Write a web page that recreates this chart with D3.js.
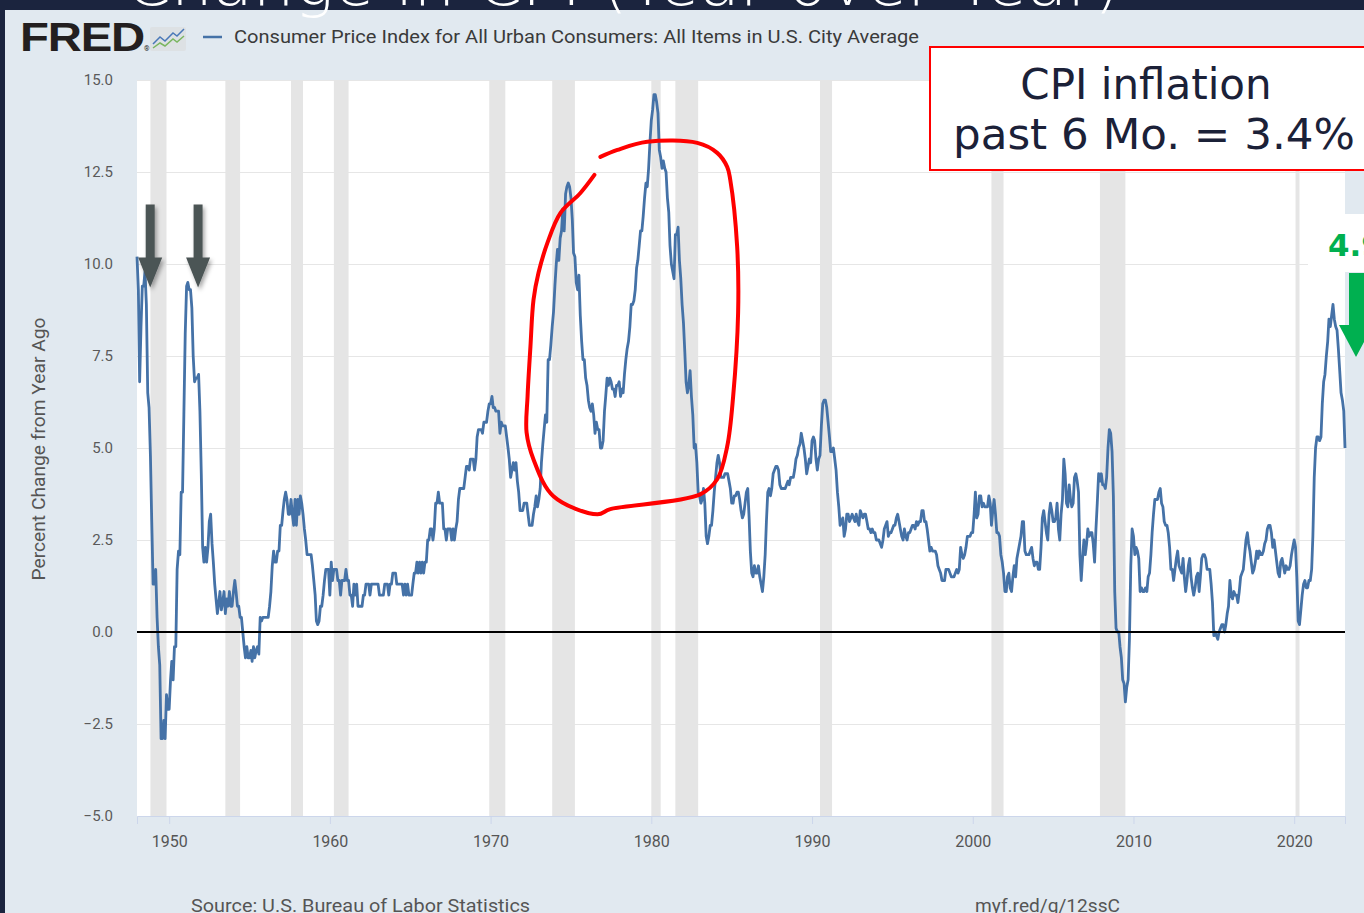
<!DOCTYPE html>
<html>
<head>
<meta charset="utf-8">
<script src="https://cdn.jsdelivr.net/npm/d3@7"></script>
<style>
  html, body { margin: 0; padding: 0; background: #1b243e; overflow: hidden; }
  svg { display: block; }
  text { font-family: Roboto, "Liberation Sans", sans-serif; }
</style>
</head>
<body>
<script>
// CPI-U, percent change from year ago, monthly, grouped by decade (first month = Jan of start year)
var cpi1940s = [10.2, 9.3, 6.8, 8.3, 9.4, 9.4, 9.8, 8.9, 6.5, 6.1, 4.8, 3.0,
                1.3, 1.3, 1.7, 0.4, -0.4, -0.9, -2.9, -2.9, -2.4, -2.9, -1.7, -2.1];
var cpi1950s = [-2.1, -1.3, -0.8, -1.3, -0.4, -0.4, 1.7, 2.2, 2.1, 3.8, 3.8, 5.9,
                8.1, 9.4, 9.5, 9.3, 9.3, 8.8, 7.5, 6.8, 6.9, 6.9, 7.0, 6.0,
                4.3, 2.3, 1.9, 2.3, 1.9, 2.3, 3.0, 3.2, 2.4, 1.9, 1.3, 0.9,
                0.5, 0.8, 1.1, 0.6, 0.8, 1.1, 0.5, 0.9, 0.7, 1.1, 0.7, 0.7,
                1.1, 1.4, 1.1, 0.7, 0.7, 0.4, 0.4, 0.0, -0.4, -0.7, -0.4, -0.7,
                -0.7, -0.5, -0.8, -0.4, -0.7, -0.5, -0.4, -0.6, 0.4, 0.3, 0.4, 0.4,
                0.4, 0.4, 0.4, 0.7, 1.1, 1.8, 2.2, 1.9, 1.9, 2.2, 2.2, 2.9,
                2.9, 3.3, 3.6, 3.8, 3.6, 3.2, 3.2, 3.6, 3.2, 2.9, 3.6, 2.9,
                3.6, 3.2, 3.7, 3.5, 3.2, 2.8, 2.5, 2.1, 2.1, 2.1, 2.1, 1.8,
                1.4, 1.0, 0.3, 0.2, 0.3, 0.7, 0.7, 1.0, 1.4, 1.7, 1.7, 1.7];
var cpi1960s = [1.0, 1.9, 1.4, 1.7, 1.7, 1.7, 1.4, 1.4, 1.0, 1.4, 1.4, 1.4,
                1.7, 1.4, 1.4, 1.0, 1.0, 0.7, 1.3, 1.0, 1.3, 0.7, 0.7, 0.7,
                0.7, 1.0, 1.0, 1.3, 1.3, 1.3, 1.0, 1.3, 1.3, 1.3, 1.3, 1.3,
                1.3, 1.0, 1.0, 1.0, 1.0, 1.3, 1.3, 1.3, 1.0, 1.3, 1.3, 1.6,
                1.6, 1.6, 1.3, 1.3, 1.3, 1.3, 1.3, 1.0, 1.3, 1.0, 1.3, 1.0,
                1.0, 1.0, 1.3, 1.6, 1.6, 1.9, 1.6, 1.9, 1.6, 1.9, 1.6, 1.9,
                1.9, 2.5, 2.5, 2.8, 2.8, 2.5, 2.8, 3.5, 3.5, 3.8, 3.5, 3.5,
                3.5, 2.8, 2.8, 2.5, 2.8, 2.8, 2.8, 2.5, 2.8, 2.5, 2.8, 3.0,
                3.6, 3.9, 3.9, 3.9, 3.9, 4.2, 4.5, 4.5, 4.4, 4.7, 4.7, 4.7,
                4.4, 4.7, 5.3, 5.5, 5.5, 5.5, 5.4, 5.7, 5.7, 5.7, 6.0, 6.2];
var cpi1970s = [6.2, 6.4, 6.1, 6.1, 6.0, 6.0, 6.0, 5.4, 5.7, 5.6, 5.6, 5.6,
                5.3, 5.0, 4.7, 4.2, 4.4, 4.6, 4.4, 4.6, 4.1, 3.8, 3.3, 3.3,
                3.3, 3.5, 3.5, 3.5, 3.2, 2.9, 2.9, 2.9, 3.2, 3.4, 3.7, 3.4,
                3.6, 3.9, 4.6, 5.1, 5.5, 5.9, 5.7, 7.4, 7.4, 7.8, 8.3, 8.7,
                9.4, 10.0, 10.4, 10.1, 10.7, 10.9, 11.5, 10.9, 11.9, 12.1, 12.2, 12.1,
                11.8, 11.2, 10.3, 10.2, 9.5, 9.3, 9.7, 8.6, 7.9, 7.4, 7.4, 6.9,
                6.7, 6.3, 6.1, 6.0, 6.2, 5.9, 5.4, 5.7, 5.5, 5.5, 5.0, 5.0,
                5.2, 6.0, 6.4, 6.9, 6.7, 6.9, 6.8, 6.6, 6.6, 6.4, 6.7, 6.7,
                6.8, 6.4, 6.6, 6.5, 7.0, 7.4, 7.7, 7.9, 8.3, 8.9, 8.9, 9.0,
                9.3, 9.9, 10.1, 10.5, 10.9, 10.9, 11.3, 11.8, 12.2, 12.1, 12.6, 13.3];
var cpi1980s = [13.9, 14.2, 14.6, 14.6, 14.4, 14.1, 13.1, 12.9, 12.6, 12.8, 12.6, 12.5,
                11.8, 11.4, 10.5, 10.0, 9.8, 9.6, 10.8, 10.8, 11.0, 10.1, 9.6, 8.9,
                8.4, 7.6, 6.8, 6.5, 6.7, 7.1, 6.4, 5.9, 5.0, 5.1, 4.6, 3.8,
                3.7, 3.5, 3.6, 3.9, 3.5, 2.6, 2.4, 2.6, 2.9, 2.9, 3.3, 3.8,
                4.2, 4.6, 4.8, 4.6, 4.2, 4.2, 4.2, 4.3, 4.3, 4.3, 4.1, 3.9,
                3.5, 3.5, 3.7, 3.7, 3.8, 3.8, 3.6, 3.3, 3.1, 3.2, 3.5, 3.8,
                3.9, 3.1, 2.2, 1.6, 1.5, 1.8, 1.6, 1.6, 1.8, 1.5, 1.3, 1.1,
                1.5, 2.1, 3.0, 3.8, 3.9, 3.7, 3.9, 4.3, 4.4, 4.5, 4.5, 4.4,
                4.0, 3.9, 3.9, 3.9, 3.9, 4.0, 4.1, 4.0, 4.2, 4.2, 4.2, 4.4,
                4.7, 4.8, 5.0, 5.1, 5.4, 5.2, 5.0, 4.7, 4.3, 4.5, 4.7, 4.6];
var cpi1990s = [5.2, 5.3, 5.2, 4.7, 4.4, 4.7, 4.8, 5.6, 6.2, 6.3, 6.3, 6.1,
                5.7, 5.3, 4.9, 4.9, 5.0, 4.7, 4.4, 3.8, 3.4, 2.9, 3.0, 3.1,
                2.6, 2.8, 3.2, 3.2, 3.0, 3.1, 3.2, 3.1, 3.0, 3.2, 3.0, 2.9,
                3.3, 3.2, 3.1, 3.2, 3.2, 3.0, 2.8, 2.8, 2.7, 2.8, 2.7, 2.7,
                2.5, 2.5, 2.5, 2.4, 2.3, 2.5, 2.8, 2.9, 3.0, 2.6, 2.7, 2.7,
                2.8, 2.9, 2.9, 3.1, 3.2, 3.0, 2.8, 2.6, 2.5, 2.8, 2.6, 2.5,
                2.7, 2.7, 2.8, 2.9, 2.9, 2.8, 3.0, 2.9, 3.0, 3.0, 3.3, 3.3,
                3.0, 3.0, 2.8, 2.5, 2.2, 2.3, 2.2, 2.2, 2.2, 2.1, 1.8, 1.7,
                1.6, 1.4, 1.4, 1.4, 1.7, 1.7, 1.7, 1.6, 1.5, 1.5, 1.5, 1.6,
                1.7, 1.6, 1.7, 2.3, 2.1, 2.0, 2.1, 2.3, 2.6, 2.6, 2.6, 2.7];
var cpi2000s = [2.7, 3.2, 3.8, 3.1, 3.2, 3.7, 3.7, 3.4, 3.5, 3.4, 3.4, 3.4,
                3.7, 3.5, 2.9, 3.3, 3.6, 3.2, 2.7, 2.7, 2.6, 2.1, 1.9, 1.6,
                1.1, 1.1, 1.5, 1.6, 1.2, 1.1, 1.5, 1.8, 1.5, 2.0, 2.2, 2.4,
                2.6, 3.0, 3.0, 2.2, 2.1, 2.1, 2.1, 2.2, 2.3, 2.0, 1.8, 1.9,
                1.9, 1.7, 1.7, 2.3, 3.1, 3.3, 3.0, 2.7, 2.5, 3.2, 3.5, 3.3,
                3.0, 3.0, 3.1, 3.5, 2.8, 2.5, 3.2, 3.6, 4.7, 4.3, 3.5, 3.4,
                4.0, 3.6, 3.4, 3.5, 4.2, 4.3, 4.1, 3.8, 2.1, 1.4, 2.0, 2.5,
                2.1, 2.4, 2.8, 2.6, 2.7, 2.7, 2.4, 1.9, 2.8, 3.5, 4.3, 4.1,
                4.3, 4.0, 4.0, 3.9, 4.2, 5.0, 5.5, 5.4, 4.9, 3.7, 1.1, 0.1,
                0.0, 0.0, -0.4, -0.7, -1.3, -1.4, -1.9, -1.5, -1.3, -0.2, 1.8, 2.8];
var cpi2010s = [2.6, 2.1, 2.3, 2.2, 2.0, 1.1, 1.2, 1.1, 1.1, 1.2, 1.1, 1.5,
                1.6, 2.1, 2.7, 3.2, 3.6, 3.6, 3.6, 3.8, 3.9, 3.5, 3.4, 3.0,
                2.9, 2.9, 2.7, 2.3, 1.7, 1.7, 1.4, 1.7, 2.0, 2.2, 1.8, 1.7,
                1.6, 2.0, 1.5, 1.1, 1.4, 1.8, 2.0, 1.5, 1.2, 1.0, 1.2, 1.5,
                1.6, 1.1, 1.5, 2.0, 2.1, 2.1, 2.0, 1.7, 1.7, 1.7, 1.3, 0.8,
                -0.1, 0.0, -0.1, -0.2, 0.0, 0.1, 0.2, 0.2, 0.0, 0.2, 0.5, 0.7,
                1.4, 1.0, 0.9, 1.1, 1.0, 1.0, 0.8, 1.1, 1.5, 1.6, 1.7, 2.1,
                2.5, 2.7, 2.4, 2.2, 1.9, 1.6, 1.7, 1.9, 2.2, 2.0, 2.2, 2.1,
                2.1, 2.2, 2.4, 2.5, 2.8, 2.9, 2.9, 2.7, 2.3, 2.5, 2.2, 1.9,
                1.6, 1.5, 1.9, 2.0, 1.8, 1.6, 1.8, 1.7, 1.7, 1.8, 2.1, 2.3];
var cpi2020s = [2.5, 2.3, 1.5, 0.3, 0.2, 0.6, 1.0, 1.3, 1.4, 1.2, 1.2, 1.4,
                1.4, 1.7, 2.6, 4.2, 5.0, 5.3, 5.3, 5.2, 5.3, 6.2, 6.8, 7.0,
                7.5, 7.9, 8.5, 8.3, 8.6, 8.9, 8.5, 8.3, 8.2, 7.7, 7.1, 6.5,
                6.3, 6.0, 5.0];
var decades = [[1948, cpi1940s], [1950, cpi1950s], [1960, cpi1960s], [1970, cpi1970s],
               [1980, cpi1980s], [1990, cpi1990s], [2000, cpi2000s], [2010, cpi2010s], [2020, cpi2020s]];

var yTicks = [-5, -2.5, 0, 2.5, 5, 7.5, 10, 12.5, 15];
var xTickYears = [1950, 1960, 1970, 1980, 1990, 2000, 2010, 2020];

// NBER recessions [first month, last month]
var recessions = [['1948-11', '1949-10'], ['1953-07', '1954-05'], ['1957-08', '1958-04'],
                  ['1960-04', '1961-02'], ['1969-12', '1970-11'], ['1973-11', '1975-03'],
                  ['1980-01', '1980-07'], ['1981-07', '1982-11'], ['1990-07', '1991-03'],
                  ['2001-03', '2001-11'], ['2007-12', '2009-06'], ['2020-02', '2020-04']];

// hand-drawn loop around the 1970s peaks, in [year, percent]
var loop = [[1976.83, 12.91], [1977.89, 13.10], [1979.75, 13.32], [1982.86, 13.29], [1984.10, 13.02],
            [1984.72, 12.64], [1984.91, 12.29], [1985.34, 10.47], [1985.40, 8.68], [1985.09, 6.40],
            [1984.72, 5.04], [1984.10, 4.15], [1983.04, 3.74], [1977.45, 3.34], [1976.65, 3.20],
            [1973.91, 3.69], [1972.67, 4.69], [1972.24, 5.42], [1972.30, 6.40], [1972.48, 7.76],
            [1972.67, 9.03], [1972.98, 9.76], [1973.54, 10.58], [1974.35, 11.39], [1975.59, 11.93],
            [1976.46, 12.42]];
var grayArrowTips = [[1948.82, 9.36], [1951.80, 9.36]];

var W = 1364, H = 913;
var plot = {left: 137, right: 1345, top: 80, bottom: 816};

var parseMonth = d3.timeParse('%Y-%m');
var series = [];
decades.forEach(function(d) {
    d[1].forEach(function(v, i) {
        series.push({date: new Date(d[0], i, 1), value: v});
    });
});

var x = d3.scaleTime()
    .domain([new Date(1948, 0, 1), new Date(2023, 2, 1)])
    .range([plot.left, plot.right]);
var y = d3.scaleLinear()
    .domain([-5, 15])
    .range([plot.bottom, plot.top]);
var yearX = function(yr) {
    var y0 = Math.floor(yr);
    return x(new Date(y0, 0, 1)) + (yr - y0) * (x(new Date(y0 + 1, 0, 1)) - x(new Date(y0, 0, 1)));
};

var svg = d3.select('body').append('svg')
    .attr('width', W)
    .attr('height', H);

var defs = svg.append('defs');
defs.append('filter').attr('id', 'shadow')
    .attr('x', '-50%').attr('y', '-50%').attr('width', '200%').attr('height', '200%')
  .append('feDropShadow')
    .attr('dx', 2).attr('dy', 3).attr('stdDeviation', 2)
    .attr('flood-color', '#000').attr('flood-opacity', 0.35);

// slide + FRED panel
svg.append('rect').attr('width', W).attr('height', H).attr('fill', '#1b243e');
svg.append('rect')
    .attr('x', 5).attr('y', 10)
    .attr('width', W - 5).attr('height', H - 10)
    .attr('fill', '#e1e9f0');

// slide title, mostly cut off by the top edge
svg.append('text')
    .attr('x', 125).attr('y', 5)
    .attr('textLength', 995)
    .attr('lengthAdjust', 'spacingAndGlyphs')
    .style('font-family', '"DejaVu Sans", sans-serif')
    .style('font-weight', 200)
    .style('font-size', '64px')
    .attr('fill', '#ffffff')
    .text('Change in CPI (Year over Year)');

// FRED header
svg.append('text')
    .attr('x', 20).attr('y', 51)
    .attr('textLength', 124)
    .attr('lengthAdjust', 'spacingAndGlyphs')
    .style('font-family', '"Liberation Sans", Arial, sans-serif')
    .style('font-weight', 700)
    .style('font-size', '40px')
    .style('letter-spacing', '-1px')
    .attr('fill', '#231f20')
    .text('FRED');
svg.append('text')
    .attr('x', 144).attr('y', 51)
    .style('font-size', '7px')
    .attr('fill', '#231f20')
    .text('®');

var icon = svg.append('g').attr('transform', 'translate(150,27)');
icon.append('rect')
    .attr('width', 36).attr('height', 24).attr('rx', 2)
    .attr('fill', '#dde1e4');
icon.append('path')
    .attr('d', 'M3,17 L10,10 L15,14 L23,6 L27,9 L34,2')
    .attr('fill', 'none').attr('stroke', '#4a78b8').attr('stroke-width', 1.5);
icon.append('path')
    .attr('d', 'M3,21 L10,16 L15,19 L23,12 L27,15 L34,9')
    .attr('fill', 'none').attr('stroke', '#7bb661').attr('stroke-width', 1.5);

svg.append('path')
    .attr('d', 'M203,37 L222,37')
    .attr('stroke', '#4572a7')
    .attr('stroke-width', 2.5);
svg.append('text')
    .attr('x', 234).attr('y', 43)
    .attr('textLength', 685)
    .attr('lengthAdjust', 'spacingAndGlyphs')
    .style('font-size', '18px')
    .attr('fill', '#3a3a3a')
    .text('Consumer Price Index for All Urban Consumers: All Items in U.S. City Average');

// plot area
svg.append('rect')
    .attr('x', plot.left).attr('y', plot.top)
    .attr('width', plot.right - plot.left)
    .attr('height', plot.bottom - plot.top)
    .attr('fill', '#ffffff');

var grid = svg.append('g')
    .attr('transform', 'translate(' + plot.left + ',0)')
    .call(d3.axisLeft(y).tickValues(yTicks).tickSize(-(plot.right - plot.left)).tickFormat(''));
grid.select('.domain').remove();
grid.selectAll('line').attr('stroke', '#e6e6e6').attr('stroke-width', 1);

svg.append('g').selectAll('rect')
    .data(recessions)
  .enter().append('rect')
    .attr('x', function(d) { return x(parseMonth(d[0])); })
    .attr('y', plot.top)
    .attr('width', function(d) { return x(d3.timeMonth.offset(parseMonth(d[1]), 1)) - x(parseMonth(d[0])); })
    .attr('height', plot.bottom - plot.top)
    .attr('fill', '#e5e5e5');

// y labels
var yAxis = svg.append('g')
    .attr('transform', 'translate(121,0)')
    .call(d3.axisLeft(y).tickValues(yTicks).tickSize(0).tickPadding(8).tickFormat(d3.format('.1f')));
yAxis.select('.domain').remove();
yAxis.selectAll('text')
    .style('font-family', 'Roboto, sans-serif')
    .style('font-size', '15px')
    .attr('fill', '#5a5a5a');

svg.append('text')
    .attr('transform', 'translate(45,449) rotate(-90)')
    .attr('text-anchor', 'middle')
    .attr('textLength', 263)
    .attr('lengthAdjust', 'spacingAndGlyphs')
    .style('font-size', '17.5px')
    .attr('fill', '#555555')
    .text('Percent Change from Year Ago');

// x axis
var xAxis = svg.append('g')
    .attr('transform', 'translate(0,' + plot.bottom + ')')
    .call(d3.axisBottom(x)
        .tickValues(xTickYears.map(function(yr) { return new Date(yr, 0, 1); }))
        .tickSize(8).tickPadding(12)
        .tickFormat(d3.timeFormat('%Y')));
xAxis.select('.domain').attr('stroke', '#ccd6eb');
xAxis.selectAll('line').attr('stroke', '#ccd6eb');
xAxis.selectAll('text')
    .style('font-family', 'Roboto, sans-serif')
    .style('font-size', '16px')
    .attr('fill', '#555555');

// series
var line = d3.line()
    .x(function(d) { return x(d.date); })
    .y(function(d) { return y(d.value); });

svg.append('path')
    .datum(series)
    .attr('d', line)
    .attr('fill', 'none')
    .attr('stroke', '#4572a7')
    .attr('stroke-width', 2.8)
    .attr('stroke-linejoin', 'round');

svg.append('path')
    .attr('d', 'M' + [plot.left, y(0)] + ' L' + [plot.right, y(0)])
    .attr('stroke', '#000000')
    .attr('stroke-width', 2);

// source lines (bottom of the screenshot cuts them)
svg.append('text')
    .attr('x', 191).attr('y', 912)
    .attr('textLength', 339)
    .attr('lengthAdjust', 'spacingAndGlyphs')
    .style('font-size', '19px')
    .attr('fill', '#555555')
    .text('Source: U.S. Bureau of Labor Statistics');
svg.append('text')
    .attr('x', 975).attr('y', 912)
    .attr('textLength', 145)
    .attr('lengthAdjust', 'spacingAndGlyphs')
    .style('font-size', '19px')
    .attr('fill', '#555555')
    .text('myf.red/g/12ssC');

// annotations: gray arrows on the early peaks
grayArrowTips.forEach(function(d) {
    var tx = yearX(d[0]), ty = y(d[1]);
    svg.append('path')
        .attr('d', 'M' + [tx - 4.5, ty - 83] + ' L' + [tx + 4.5, ty - 83] + ' L' + [tx + 4.5, ty - 30] +
              ' L' + [tx + 12, ty - 30] + ' L' + [tx, ty] + ' L' + [tx - 12, ty - 30] +
              ' L' + [tx - 4.5, ty - 30] + ' Z')
        .attr('fill', '#4b5455')
        .attr('filter', 'url(#shadow)');
});

// red hand-drawn loop
svg.append('path')
    .datum(loop)
    .attr('d', d3.line()
        .x(function(d) { return yearX(d[0]); })
        .y(function(d) { return y(d[1]); })
        .curve(d3.curveCatmullRom))
    .attr('fill', 'none')
    .attr('stroke', '#ff0000')
    .attr('stroke-width', 4)
    .attr('stroke-linecap', 'round')
    .attr('stroke-linejoin', 'round');

// CPI box
svg.append('rect')
    .attr('x', 930).attr('y', 47)
    .attr('width', 450).attr('height', 123)
    .attr('fill', '#ffffff')
    .attr('stroke', '#ff0000')
    .attr('stroke-width', 2);
svg.append('text')
    .attr('x', 1146).attr('y', 99)
    .attr('text-anchor', 'middle')
    .style('font-family', '"DejaVu Sans", Verdana, sans-serif')
    .style('font-size', '42px')
    .attr('fill', '#1b2138')
    .text('CPI inflation');
svg.append('text')
    .attr('x', 953).attr('y', 149)
    .attr('textLength', 402)
    .attr('lengthAdjust', 'spacingAndGlyphs')
    .style('font-family', '"DejaVu Sans", Verdana, sans-serif')
    .style('font-size', '42px')
    .attr('fill', '#1b2138')
    .text('past 6 Mo. = 3.4%');

// green callout at the right edge
svg.append('rect')
    .attr('x', 1308).attr('y', 214)
    .attr('width', 60).attr('height', 58)
    .attr('fill', '#ffffff');
svg.append('text')
    .attr('x', 1328).attr('y', 256)
    .style('font-family', '"DejaVu Sans", Verdana, sans-serif')
    .style('font-weight', 700)
    .style('font-size', '31px')
    .attr('fill', '#00b050')
    .text('4.9%');
svg.append('path')
    .attr('d', 'M1349,273 L1364,273 L1364,325 L1373,325 L1356,357 L1339,325 L1349,325 Z')
    .attr('fill', '#00b050');
</script>
</body>
</html>
